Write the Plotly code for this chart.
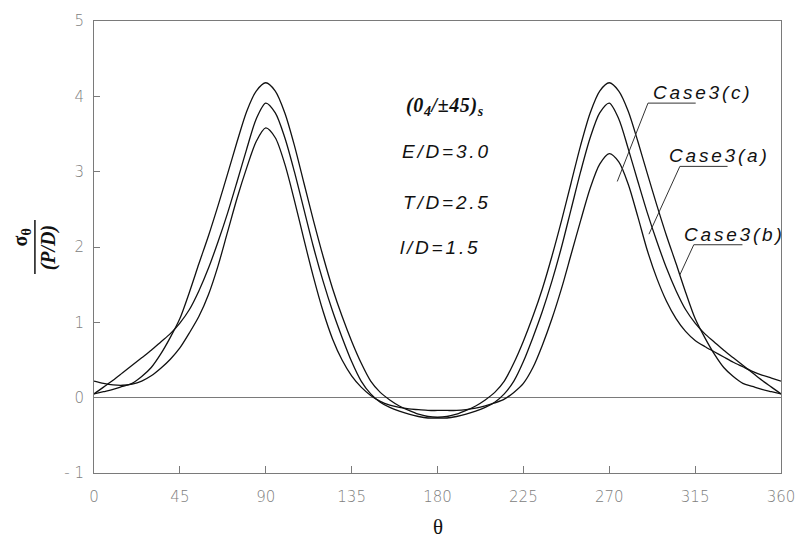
import plotly.graph_objects as go

# Angle around the hole (degrees)
theta = list(range(0, 361, 5))

# Normalised hoop stress sigma_theta / (P/D) for the three cases
case3_c = [0.05, 0.08, 0.11, 0.15, 0.19, 0.28, 0.40, 0.58, 0.80, 1.05,
           1.40, 1.78, 2.15, 2.55, 2.97, 3.40, 3.80, 4.07, 4.18, 4.07,
           3.78, 3.35, 2.85, 2.35, 1.88, 1.45, 1.08, 0.75, 0.46, 0.22,
           0.07, -0.03, -0.11, -0.17, -0.22, -0.25, -0.26, -0.25, -0.22, -0.17,
           -0.11, -0.03, 0.07, 0.22, 0.46, 0.75, 1.08, 1.45, 1.88, 2.35,
           2.85, 3.35, 3.78, 4.07, 4.18, 4.07, 3.80, 3.40, 2.97, 2.55,
           2.15, 1.78, 1.40, 1.05, 0.80, 0.58, 0.40, 0.28, 0.19, 0.15,
           0.11, 0.08, 0.05]

case3_a = [0.05, 0.14, 0.23, 0.33, 0.43, 0.53, 0.63, 0.74, 0.85, 0.99,
           1.17, 1.42, 1.72, 2.07, 2.45, 2.87, 3.30, 3.70, 3.91, 3.78,
           3.45, 3.00, 2.50, 2.00, 1.55, 1.15, 0.80, 0.48, 0.22, 0.05,
           -0.06, -0.13, -0.18, -0.22, -0.25, -0.27, -0.27, -0.27, -0.25, -0.22,
           -0.18, -0.13, -0.06, 0.05, 0.22, 0.48, 0.80, 1.15, 1.55, 2.00,
           2.50, 3.00, 3.45, 3.78, 3.91, 3.70, 3.30, 2.87, 2.45, 2.07,
           1.72, 1.42, 1.17, 0.99, 0.85, 0.74, 0.63, 0.53, 0.43, 0.33,
           0.23, 0.14, 0.05]

case3_b = [0.22, 0.19, 0.17, 0.165, 0.18, 0.22, 0.29, 0.39, 0.51, 0.66,
           0.86, 1.08, 1.37, 1.75, 2.20, 2.65, 3.05, 3.40, 3.58, 3.45,
           3.10, 2.62, 2.10, 1.60, 1.15, 0.78, 0.50, 0.29, 0.14, 0.03,
           -0.05, -0.10, -0.13, -0.15, -0.16, -0.17, -0.17, -0.17, -0.17, -0.16,
           -0.14, -0.11, -0.07, -0.02, 0.07, 0.19, 0.40, 0.70, 1.05, 1.45,
           1.90, 2.35, 2.78, 3.10, 3.24, 3.13, 2.83, 2.40, 1.95, 1.58,
           1.28, 1.05, 0.88, 0.76, 0.68, 0.61, 0.54, 0.47, 0.41, 0.35,
           0.30, 0.26, 0.22]

x_ticks = [0, 45, 90, 135, 180, 225, 270, 315, 360]
y_ticks = [-1, 0, 1, 2, 3, 4, 5]
y_ticktext = ["- 1", "0", "1", "2", "3", "4", "5"]

AXIS_GREY = "#7a7a7a"
CURVE = "#111111"
SPACED = "letter-spacing:2.8px"

fig = go.Figure()
for name, vals in [("Case3(c)", case3_c), ("Case3(a)", case3_a), ("Case3(b)", case3_b)]:
    fig.add_trace(go.Scatter(
        x=theta, y=vals, name=name, mode="lines",
        line=dict(color=CURVE, width=1.3, shape="spline", smoothing=0.8),
        showlegend=False, hoverinfo="x+y+name",
    ))

# Parameter block
label_font = dict(family="Liberation Sans", size=19, color="#111111", style="italic")
fig.add_annotation(x=162.5, y=3.86, xref="x", yref="y", xanchor="left", yanchor="middle",
                   showarrow=False,
                   text='<b><i><span style="letter-spacing:0.6px">(0<sub>4</sub>/±45)<sub>s</sub></span></i></b>',
                   font=dict(family="Liberation Serif", size=20, color="#111111"))
for tx, ty, label in [(160.2, 3.27, "E/D=3.0"), (160.8, 2.59, "T/D=2.5"), (159.2, 1.99, "l/D=1.5")]:
    fig.add_annotation(x=tx, y=ty, xref="x", yref="y", xanchor="left", yanchor="middle",
                       showarrow=False, font=label_font,
                       text=f'<span style="{SPACED}">{label}</span>')

# Case labels with underline and leader line
case_labels = [
    # text, text x, text y, underline x0, x1, y, leader end x, y
    ("Case3(c)", 291.9, 4.05, 290.3, 315.3, 3.91, 274.2, 2.87),
    ("Case3(a)", 300.2, 3.22, 307.0, 332.0, 3.07, 290.8, 2.17),
    ("Case3(b)", 308.0, 2.17, 314.3, 339.8, 2.03, 307.0, 1.63),
]
for label, tx, ty, ux0, ux1, uy, lx, ly in case_labels:
    fig.add_annotation(x=tx, y=ty, xref="x", yref="y", xanchor="left", yanchor="middle",
                       showarrow=False, font=label_font,
                       text=f'<span style="{SPACED}">{label}</span>')
    fig.add_shape(type="line", xref="x", yref="y", x0=ux0, x1=ux1, y0=uy, y1=uy,
                  line=dict(color="#333333", width=1))
    fig.add_shape(type="line", xref="x", yref="y", x0=ux0, x1=lx, y0=uy, y1=ly,
                  line=dict(color="#333333", width=1))

# Y-axis title as a stacked fraction
fig.add_annotation(x=-0.1055, y=0.52, xref="paper", yref="paper", showarrow=False,
                   textangle=-90, xanchor="center", yanchor="middle",
                   text="<b>σ<sub>θ</sub></b>",
                   font=dict(family="Liberation Serif", size=20, color="#111111"))
fig.add_shape(type="line", xref="paper", yref="paper", x0=-0.086, x1=-0.086,
              y0=0.44, y1=0.56, line=dict(color="#111111", width=1.5))
fig.add_annotation(x=-0.0665, y=0.50, xref="paper", yref="paper", showarrow=False,
                   textangle=-90, xanchor="center", yanchor="middle",
                   text="<b><i>(P/D)</i></b>",
                   font=dict(family="Liberation Serif", size=20, color="#111111"))

# X-axis title
fig.add_annotation(x=0.5, y=-0.12, xref="paper", yref="paper", showarrow=False,
                   xanchor="center", yanchor="middle", text="θ",
                   font=dict(family="Liberation Serif", size=21, color="#111111"))

tick_font = dict(family="DejaVu Sans", size=15, color="#808080", weight=200)
fig.update_xaxes(
    range=[0, 360], tickvals=x_ticks, ticktext=[str(v) for v in x_ticks],
    showgrid=False, zeroline=False,
    showline=True, linecolor=AXIS_GREY, linewidth=1, mirror=True,
    ticks="inside", ticklen=7, tickcolor=AXIS_GREY, tickwidth=1,
    tickfont=tick_font, ticklabelstandoff=10,
)
fig.update_yaxes(
    range=[-1, 5], tickvals=y_ticks, ticktext=y_ticktext,
    showgrid=False, zeroline=True, zerolinecolor=AXIS_GREY, zerolinewidth=1,
    showline=True, linecolor=AXIS_GREY, linewidth=1, mirror=True,
    ticks="inside", ticklen=6, tickcolor=AXIS_GREY, tickwidth=1,
    tickfont=tick_font, ticklabelstandoff=6,
)
fig.update_layout(
    width=807, height=543,
    margin=dict(l=94, r=21, t=16, b=70),
    paper_bgcolor="white", plot_bgcolor="white",
)

fig.write_html("out.html")
